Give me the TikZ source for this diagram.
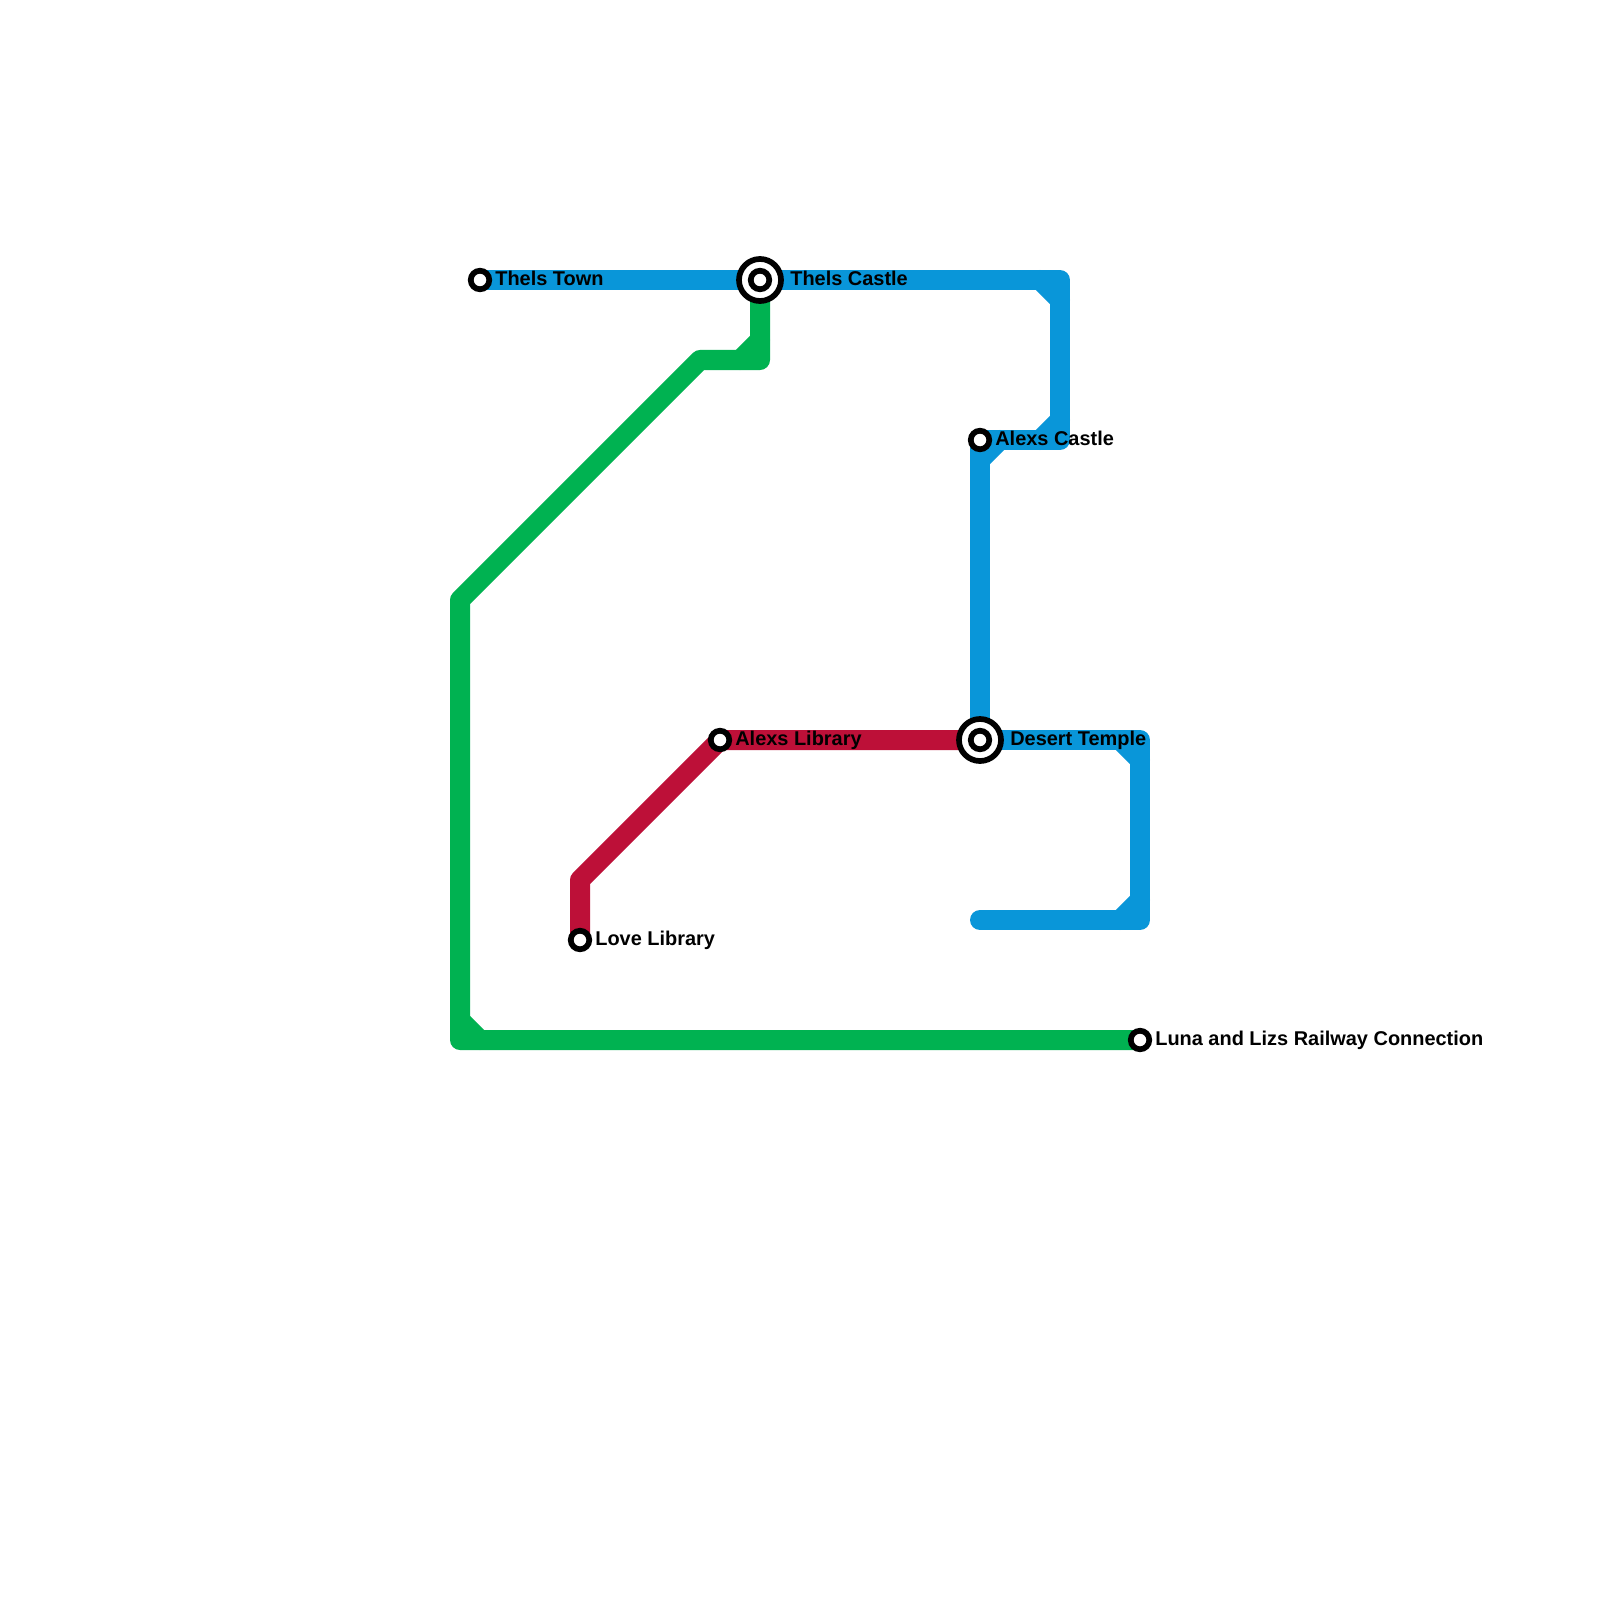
\documentclass[tikz,border=0pt]{standalone}
\usepackage{fontspec}
\setmainfont{Liberation Sans}
\usetikzlibrary{backgrounds}
\definecolor{lineblue}{HTML}{0996D9}
\definecolor{linegreen}{HTML}{00B251}
\definecolor{linered}{HTML}{BD1038}
\tikzset{
  every picture/.style={line width=0.75pt},
  station/.style={circle,draw=black,fill=white,line width=0.057cm,minimum size=0.185cm,inner sep=0pt},
  interchange/.style={circle,draw=black,fill=white,line width=0.057cm,minimum size=0.42cm,inner sep=0pt},
  stationlabel/.style={anchor=base west,inner sep=0pt,font=\fontsize{5.67pt}{7pt}\selectfont\bfseries},
  track/.style={line width=0.2cm,line join=round,line cap=round}
}

\begin{document}
\begin{tikzpicture}[x=0.01cm,y=-0.01cm]
    \useasboundingbox (0,0) rectangle (1600,1600);

    % Interchanges
    \node[interchange] (thelscastleouter) at (760,280) {};
    \node[station] (thelscastle) at (760,280) {};
    \node[interchange] (deserttempleouter) at (980,740) {};
    \node[station] (deserttemple) at (980,740) {};

    % Stations
    \node[station] (thelstown) at (480,280) {};
    \node[station] (alexscastle) at (980,440) {};
    \node[station] (alexslibrary) at (720,740) {};
    \node[station] (lovelibrary) at (580,940) {};
    \node[station] (railway) at (1140,1040) {};

    % Corners
    \coordinate (bluetop) at (1060,280);
    \coordinate (bluemid) at (1060,440);
    \coordinate (blueright) at (1140,740);
    \coordinate (bluelow) at (1140,920);
    \coordinate (blueend) at (980,920);
    \coordinate (greentop) at (760,360);
    \coordinate (greenbend) at (700,360);
    \coordinate (greenleft) at (460,600);
    \coordinate (greenlow) at (460,1040);
    \coordinate (redbend) at (580,880);

    \begin{scope}[on background layer]
        \fill[white] (0,0) rectangle (1600,1600);

        % Red line
        \draw[track,linered] (lovelibrary.center) -- (redbend) -- (alexslibrary.center) -- (deserttemple.center);

        % Green line
        \draw[track,linegreen] (thelscastle.center) -- (greentop) -- (greenbend) -- (greenleft) -- (greenlow) -- (railway.center);
        \draw[track,linegreen] (740,360) -- (760,340);
        \draw[track,linegreen] (460,1020) -- (480,1040);

        % Blue line
        \draw[track,lineblue] (thelstown.center) -- (bluetop) -- (bluemid) -- (alexscastle.center) -- (deserttemple.center) -- (blueright) -- (bluelow) -- (blueend);
        \draw[track,lineblue] (1040,280) -- (1060,300);
        \draw[track,lineblue] (1060,420) -- (1040,440);
        \draw[track,lineblue] (1000,440) -- (980,460);
        \draw[track,lineblue] (1120,740) -- (1140,760);
        \draw[track,lineblue] (1140,900) -- (1120,920);
    \end{scope}

    % Labels
    \node[stationlabel] (thelstownlabel) at (494,285) {Thels Town};
    \node[stationlabel] (thelscastlelabel) at (789,285) {Thels Castle};
    \node[stationlabel] (alexscastlelabel) at (994,445) {Alexs Castle};
    \node[stationlabel] (alexslibrarylabel) at (734,745) {Alexs Library};
    \node[stationlabel] (deserttemplelabel) at (1009,745) {Desert Temple};
    \node[stationlabel] (lovelibrarylabel) at (594,945) {Love Library};
    \node[stationlabel] (railwaylabel) at (1154,1045) {Luna and Lizs Railway Connection};
\end{tikzpicture}
\end{document}
